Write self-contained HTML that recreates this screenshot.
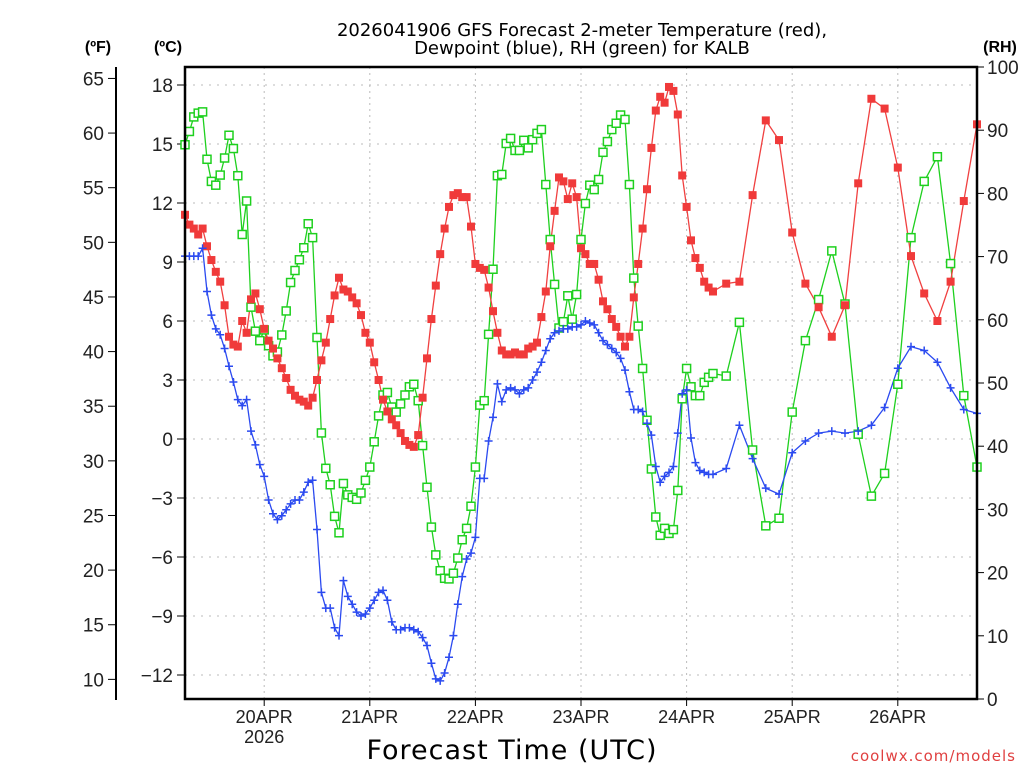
<!DOCTYPE html>
<html><head><meta charset="utf-8"><style>
body{margin:0;background:#fff}
svg{display:block;font-family:"Liberation Sans","DejaVu Sans",sans-serif}
</style></head><body>
<svg id="chart" width="1024" height="768" viewBox="0 0 1024 768">
<rect width="1024" height="768" fill="#fff"/>
<text x="582" y="36" font-size="18" text-anchor="middle" fill="#000" font-family="DejaVu Sans, sans-serif">2026041906 GFS Forecast 2-meter Temperature (red),</text>
<text x="582" y="54" font-size="18" text-anchor="middle" fill="#000" font-family="DejaVu Sans, sans-serif">Dewpoint (blue), RH (green) for KALB</text>
<text x="98" y="52" font-size="16" font-weight="bold" text-anchor="middle">(ºF)</text>
<text x="168" y="52" font-size="16" font-weight="bold" text-anchor="middle">(ºC)</text>
<text x="1000" y="52" font-size="16" font-weight="bold" text-anchor="middle">(RH)</text>
<text x="512" y="759" font-size="27" text-anchor="middle" letter-spacing="1" font-family="DejaVu Sans, sans-serif">Forecast Time (UTC)</text>
<text x="1016" y="761" font-size="15" text-anchor="end" fill="#e04040" letter-spacing="1" font-family="DejaVu Sans, sans-serif">coolwx.com/models</text>
<g id="grid"></g><g id="axes"></g><g id="series"></g>
<rect x="185" y="67" width="792" height="632" fill="none" stroke="#000" stroke-width="2.5"/>
</svg>
<script>
const dayLabels=["20APR","21APR","22APR","23APR","24APR","25APR","26APR"];
const dayHours=[18,42,66,90,114,138,162];
const cTicks=[18,15,12,9,6,3,0,-3,-6,-9,-12];
const fTicks=[65,60,55,50,45,40,35,30,25,20,15,10];
const rhTicks=[100,90,80,70,60,50,40,30,20,10,0];
const tempC=[11.4,10.9,10.7,10.4,10.7,9.8,9.1,8.5,8.0,6.8,5.2,4.8,4.7,6.0,5.4,7.1,7.4,6.6,5.6,5.0,4.6,4.1,3.6,3.1,2.5,2.2,2.0,1.9,1.7,2.1,3.0,4.0,4.9,6.1,7.3,8.2,7.6,7.5,7.2,6.9,6.3,5.4,4.9,3.9,3.0,2.0,1.4,1.0,0.7,0.3,-0.1,-0.3,-0.4,0.2,2.1,4.1,6.1,7.8,9.4,10.7,11.8,
12.4,12.5,12.3,12.3,10.8,8.9,8.7,8.6,7.7,6.5,5.4,4.5,4.3,4.3,4.4,4.3,4.3,4.6,4.7,4.9,6.2,7.5,9.8,11.6,13.3,13.1,12.2,13.0,12.3,9.7,9.4,8.9,8.9,8.1,7.0,6.6,6.1,5.7,5.2,4.7,5.2,7.2,8.9,10.7,12.7,14.8,16.7,17.4,17.1,17.9,17.7,16.5,13.4,11.8,10.1,9.2,8.7,8.0,7.7,7.5,
7.9,8.0,12.4,16.2,15.2,10.5,7.9,6.7,5.2,6.8,13.0,17.3,16.8,13.8,9.3,7.4,6.0,8.0,12.1,16.0];
const dewC=[9.3,9.3,9.3,9.3,9.7,7.5,6.3,5.6,5.3,4.6,3.7,2.9,2.0,1.7,2.0,0.4,-0.3,-1.3,-1.9,-3.1,-3.8,-4.1,-3.9,-3.6,-3.3,-3.1,-3.1,-2.7,-2.2,-2.1,-4.6,-7.8,-8.6,-8.6,-9.6,-10.0,-7.2,-8.0,-8.4,-8.8,-9.0,-8.9,-8.6,-8.2,-7.8,-7.7,-8.2,-9.3,-9.7,-9.7,-9.6,-9.6,-9.7,-9.8,-10.1,-10.5,-11.4,-12.2,-12.3,-11.9,-11.1,
-10.0,-8.4,-7.0,-6.1,-5.8,-5.0,-2.0,-2.0,-0.1,1.1,2.8,1.9,2.5,2.6,2.5,2.3,2.5,2.6,3.0,3.4,3.9,4.5,5.1,5.4,5.5,5.6,5.6,5.7,5.7,5.8,6.0,5.9,5.8,5.4,5.0,4.8,4.6,4.4,4.1,3.5,2.4,1.5,1.5,1.4,0.8,0.2,-1.4,-2.2,-1.9,-1.7,-1.4,0.3,2.3,2.5,0.05,-1.2,-1.6,-1.7,-1.8,-1.8,
-1.5,0.7,-1.0,-2.5,-2.8,-0.7,-0.1,0.3,0.4,0.3,0.4,0.7,1.6,3.6,4.7,4.5,3.9,2.6,1.5,1.3];
const rh=[87.7,89.8,92.1,92.7,92.9,85.4,81.9,81.3,82.9,85.6,89.2,87.1,82.8,73.5,78.8,62.0,58.2,56.7,58.4,55.9,54.3,54.9,57.6,61.4,65.9,67.8,69.5,71.4,75.2,73.0,57.2,42.1,36.5,33.9,28.9,26.3,34.1,32.3,31.9,31.6,32.6,34.6,36.7,40.7,44.8,48.1,48.5,46.2,45.4,46.7,48.1,49.4,49.8,47.2,40.1,33.5,27.2,22.8,20.3,19.1,19.0,
19.9,22.3,25.2,27.0,30.5,36.7,46.5,47.2,57.7,68.0,82.8,83.0,87.9,88.7,86.8,86.8,88.4,87.2,88.5,89.5,90.1,81.4,72.7,65.6,58.7,59.7,63.8,60.1,64.0,72.7,78.4,81.3,80.6,82.2,86.5,88.2,90.1,91.1,92.4,91.7,81.4,66.6,59.0,52.3,44.1,36.4,28.8,25.9,27.0,26.2,26.8,33.0,47.5,52.3,49.4,48.0,48.0,50.1,50.9,51.5,
51.1,59.6,39.4,27.4,28.6,45.4,56.7,63.2,70.9,62.5,41.9,32.1,35.7,49.8,73.0,81.9,85.8,68.9,48.0,36.7];
const hours=[];for(let h=0;h<=120;h++)hours.push(h);for(let h=123;h<=180;h+=3)hours.push(h);

const X0=185,X1=977,Y0=67,Y1=699;
const xS=h=>X0+h*(X1-X0)/180;
const cY=c=>439-c*19.667;
const fY=f=>cY((f-32)/1.8);
const rY=r=>Y1-r*(Y1-Y0)/100;
const NS="http://www.w3.org/2000/svg";
function mk(tag,attrs,parent){const e=document.createElementNS(NS,tag);for(const k in attrs)e.setAttribute(k,attrs[k]);parent.appendChild(e);return e;}
const grid=document.getElementById('grid'),axes=document.getElementById('axes'),ser=document.getElementById('series');
cTicks.forEach(c=>{const y=cY(c);
 const g=mk('line',{x1:X0,x2:X1,y1:y,y2:y,stroke:'#bbb','stroke-width':1,'stroke-dasharray':'2,6'},grid);
 
 
 mk('line',{x1:X0-8,x2:X0,y1:y,y2:y,stroke:'#000','stroke-width':1},axes);
 const t=mk('text',{x:X0-12,y:y+7,'font-size':19,'text-anchor':'end',fill:'#222'},axes);
 
 
 t.textContent=c<0?'\u2212'+(-c):String(c);});
mk('line',{x1:116,x2:116,y1:67,y2:700,stroke:'#000','stroke-width':2},axes);
fTicks.forEach(f=>{const y=fY(f);
 mk('line',{x1:108,x2:116,y1:y,y2:y,stroke:'#000','stroke-width':1},axes);
 const t=mk('text',{x:104,y:y+7,'font-size':19,'text-anchor':'end',fill:'#222'},axes);
 
 
 t.textContent=f;});
rhTicks.forEach(r=>{const y=rY(r);
 mk('line',{x1:X1,x2:X1+7,y1:y,y2:y,stroke:'#000','stroke-width':1},axes);
 const t=mk('text',{x:X1+10,y:y+7,'font-size':19,'text-anchor':'start',fill:'#222'},axes);
 
 
 t.textContent=r;});
dayHours.forEach((h,i)=>{const x=xS(h);
 const g=mk('line',{x1:x,x2:x,y1:Y0,y2:Y1,stroke:'#bbb','stroke-width':1,'stroke-dasharray':'2,4'},grid);
 
 
 mk('line',{x1:x,x2:x,y1:Y1,y2:Y1+7,stroke:'#000','stroke-width':1},axes);
 const t=mk('text',{x:x,y:723,'font-size':18,'text-anchor':'middle',fill:'#222'},axes);
 
 
 t.textContent=dayLabels[i];});
const yr=mk('text',{x:xS(18),y:743,'font-size':18,'text-anchor':'middle',fill:'#222'},axes);


yr.textContent='2026';

function line(vals,yf,color,name){
 const pts=vals.map((v,i)=>xS(hours[i]).toFixed(1)+','+yf(v).toFixed(1)).join(' ');
 const p=mk('polyline',{points:pts,fill:'none',stroke:color,'stroke-width':1.3},ser);
 
 
}
line(rh,rY,'#1ed01e','rh-line');
line(tempC,cY,'#f04040','temperature-line');
line(dewC,cY,'#2b4af0','dewpoint-line');
rh.forEach((v,i)=>{const m=mk('rect',{x:xS(hours[i])-4,y:rY(v)-4,width:8,height:8,fill:'#fff',stroke:'#1ed01e','stroke-width':1.5},ser);
 
 });
tempC.forEach((v,i)=>{const m=mk('rect',{x:xS(hours[i])-4,y:cY(v)-4,width:8,height:8,fill:'#f03a3a'},ser);
 
 });
dewC.forEach((v,i)=>{const x=xS(hours[i]),y=cY(v);
 const m=mk('path',{d:`M${x-4},${y}H${x+4}M${x},${y-4}V${y+4}`,stroke:'#2b4af0','stroke-width':1.5},ser);
 
 });
</script>
</body></html>
